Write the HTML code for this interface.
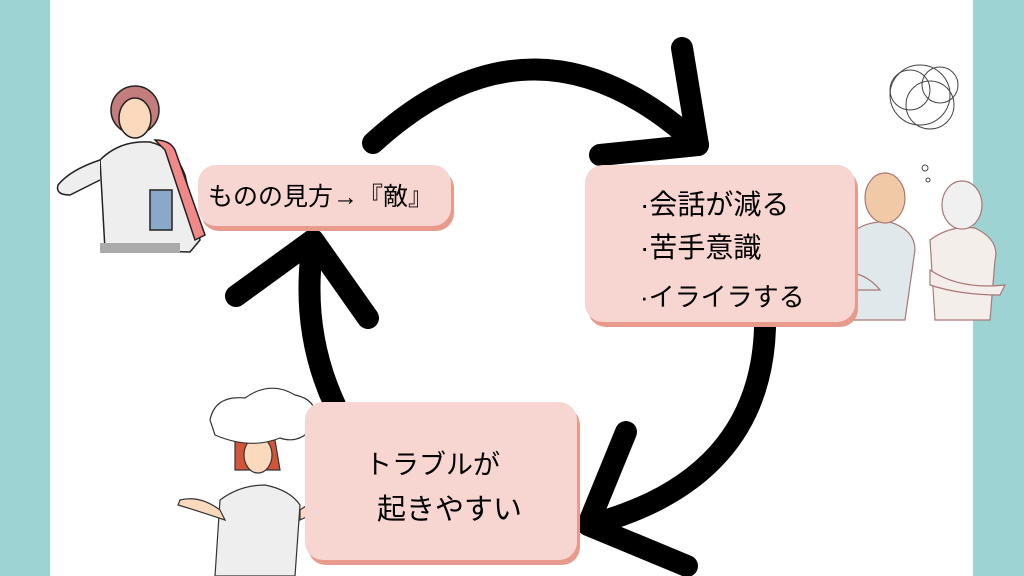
<!DOCTYPE html>
<html><head><meta charset="utf-8"><style>
body{margin:0;width:1024px;height:576px;position:relative;overflow:hidden;background:#fff;font-family:"Liberation Sans","Noto Sans CJK JP",sans-serif}
.tl{position:absolute;left:0;top:0;width:50px;height:576px;background:#9dd3d2}
.tr{position:absolute;left:973px;top:0;width:51px;height:576px;background:#9dd3d2}
.box{position:absolute;background:#f7d5d0;border-radius:18px;box-shadow:3px 5px 0 #e89a8c;color:#111}
.t{position:absolute;white-space:nowrap;line-height:1}
svg{position:absolute;left:0;top:0}
</style></head><body>
<div class="tl"></div><div class="tr"></div>
<svg width="1024" height="576">
 <g stroke="#222" stroke-width="1.5">
  <path d="M105 250 L100 160 Q120 140 150 142 Q175 148 185 175 L200 240 L190 252 Z" fill="#eee"/>
  <path d="M100 160 Q70 170 58 185 Q55 195 70 195 L100 180" fill="#eee"/>
  <path d="M155 140 Q170 140 175 150 L205 235 L195 240 L165 150Z" fill="#f28888"/>
  <rect x="150" y="190" width="22" height="40" fill="#8aa8c8"/>
  <circle cx="135" cy="110" r="24" fill="#c47d7d"/>
  <ellipse cx="135" cy="118" rx="16" ry="20" fill="#fbd9bd"/>
  <rect x="100" y="243" width="80" height="10" fill="#aaa" stroke="none"/>
 </g>
 <g stroke="#a77" stroke-width="1.2">
  <path d="M850 320 L845 240 Q860 220 890 222 Q915 230 915 250 L905 320Z" fill="#dfe8ea"/>
  <ellipse cx="885" cy="198" rx="20" ry="25" fill="#f0c9a6"/>
  <path d="M935 320 L930 240 Q950 225 975 228 Q1000 240 995 260 L990 320Z" fill="#f3eeea"/>
  <ellipse cx="962" cy="205" rx="20" ry="24" fill="#f0f0f0"/>
  <path d="M825 275 Q860 265 880 290 L830 290Z" fill="#dfe8ea"/>
  <path d="M930 270 Q960 290 1005 285 L1000 295 Q960 295 930 285Z" fill="#f3eeea"/>
 </g>
 <g fill="none" stroke="#444" stroke-width="1">
  <circle cx="920" cy="95" r="30"/><circle cx="930" cy="105" r="24"/><circle cx="910" cy="90" r="20"/><circle cx="940" cy="85" r="18"/>
  <circle cx="925" cy="168" r="3"/><circle cx="928" cy="180" r="2"/>
 </g>
 <g stroke="#333" stroke-width="1.2">
  <path d="M215 576 L220 500 Q240 485 265 485 Q290 490 300 505 L295 576Z" fill="#eee"/>
  <path d="M180 500 Q200 495 220 510 L225 520 Q195 510 178 505Z" fill="#fbd9bd"/>
  <path d="M300 510 Q320 495 345 500 L340 505 Q320 510 300 520Z" fill="#fbd9bd"/>
  <path d="M235 440 Q255 420 275 440 L280 470 L235 470Z" fill="#d2553a"/>
  <ellipse cx="258" cy="455" rx="14" ry="18" fill="#fbd9bd"/>
  <path d="M210 420 Q215 395 245 398 Q270 380 295 395 Q320 400 315 425 Q300 445 280 438 Q250 450 215 435Z" fill="#fff"/>
 </g>
 <g fill="none" stroke="#000" stroke-width="22" stroke-linecap="round" stroke-linejoin="round">
  <path d="M373 143 Q535 -5 698 145"/>
  <path d="M682 48 L698 145 L600 155"/>
  <path d="M765 328 Q760 480 590 525"/>
  <path d="M626 432 L588 525 L687 566"/>
  <path d="M335 405 Q300 330 313 242"/>
  <path d="M236 296 L313 240 L368 318"/>
 </g>
</svg>
<div class="box" style="left:198px;top:165px;width:253px;height:61px"></div>
<div class="t" style="left:208px;top:185px;font-size:25px">ものの見方→『敵』</div>
<div class="box" style="left:585px;top:165px;width:270px;height:157px"></div>
<div class="t" style="left:640px;top:191px;font-size:28px">·会話が減る</div>
<div class="t" style="left:640px;top:234px;font-size:28px">·苦手意識</div>
<div class="t" style="left:640px;top:284px;font-size:26px">·イライラする</div>
<div class="box" style="left:305px;top:402px;width:272px;height:158px"></div>
<div class="t" style="left:365px;top:452px;font-size:27px">トラブルが</div>
<div class="t" style="left:377px;top:496px;font-size:29px">起きやすい</div>
</body></html>
